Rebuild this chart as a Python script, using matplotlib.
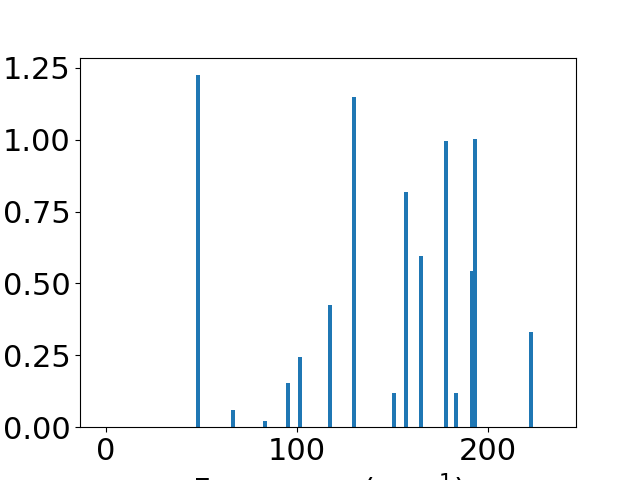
import matplotlib
matplotlib.use('Agg')
from matplotlib import pyplot as plt

# vibrational modes: frequency (cm^-1) and intensity
freqs = [48.3, 66.7, 83.4, 95.4, 101.5, 117.4, 130.0, 150.7, 157.2,
         165.1, 177.9, 183.1, 191.8, 193.3, 222.4]
intens = [1.225, 0.059, 0.022, 0.154, 0.244, 0.424, 1.148, 0.119, 0.818,
          0.595, 0.996, 0.119, 0.543, 1.002, 0.331]

fig = plt.figure(figsize=(6.4, 4.8), dpi=100)
ax = fig.add_subplot(111)
ax.bar(freqs, intens, 2, color='#1f77b4')
ax.set_xlim(-13.5, 246)
ax.set_ylim(0, 1.286)
ax.set_xticks([0, 100, 200])
ax.set_yticks([0, 0.25, 0.5, 0.75, 1.0, 1.25])
ax.tick_params(labelsize=22)
ax.set_xlabel('Frequency (cm$^{-1}$)', fontsize=22)
fig.savefig('out.png', dpi=100)
